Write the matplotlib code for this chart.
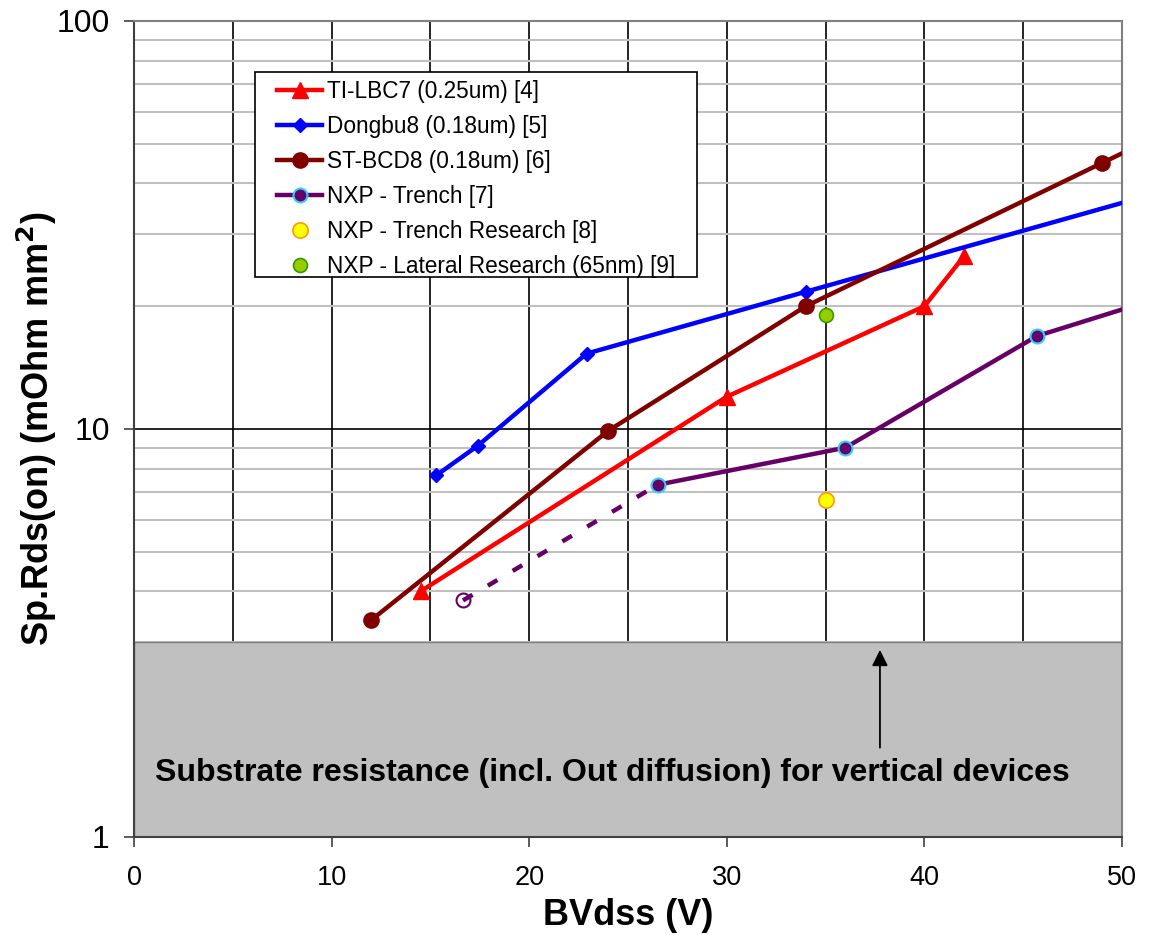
import matplotlib
matplotlib.use("Agg")
import matplotlib.pyplot as plt
from matplotlib.patches import Rectangle
from matplotlib.ticker import FixedLocator, NullFormatter

plt.rcParams['font.family'] = ['Liberation Sans', 'DejaVu Sans']

# ---- data ----
ti_x = [14.5, 30, 40, 42]
ti_y = [4.0, 12.0, 20.0, 26.5]

dongbu_x = [15.3, 17.4, 22.9, 34.0, 60.0]
dongbu_y = [7.7, 9.1, 15.3, 21.7, 49.0]

st_x = [12.0, 24.0, 34.0, 49.0, 60.0]
st_y = [3.4, 9.9, 20.0, 44.9, 81.0]

nxp_x = [26.5, 36.0, 45.7, 60.0]
nxp_y = [7.3, 9.0, 16.9, 27.8]

nxp_dash_x = [16.65, 26.5]
nxp_dash_y = [3.8, 7.3]

tr_res_x = [35.0]
tr_res_y = [6.7]

lat_res_x = [35.0]
lat_res_y = [19.0]

substrate_limit = 3.0
arrow_x = 37.75
arrow_from = 1.63
arrow_to = 2.92

labels = ["TI-LBC7 (0.25um) [4]", "Dongbu8 (0.18um) [5]", "ST-BCD8 (0.18um) [6]",
          "NXP - Trench [7]", "NXP - Trench Research [8]",
          "NXP - Lateral Research (65nm) [9]"]
substrate_text = "Substrate resistance (incl. Out diffusion) for vertical devices"

W, H = 1149, 935
fig = plt.figure(figsize=(W / 100, H / 100), dpi=100)
ax = fig.add_axes([134 / W, 1 - 837 / H, (1122 - 134) / W, (837 - 21) / H])
ax.set_xlim(0, 50)
ax.set_yscale('log')
ax.set_ylim(1, 100)

# grid
ax.set_axisbelow(True)
ax.xaxis.set_major_locator(FixedLocator([0, 10, 20, 30, 40, 50]))
ax.xaxis.set_minor_locator(FixedLocator([5, 15, 25, 35, 45]))
ax.yaxis.set_major_locator(FixedLocator([1, 10, 100]))
ax.yaxis.set_minor_locator(FixedLocator([2, 3, 4, 5, 6, 7, 8, 9, 20, 30, 40, 50, 60, 70, 80, 90]))
ax.yaxis.set_minor_formatter(NullFormatter())
ax.set_yticklabels(["1", "10", "100"])
ax.grid(True, axis='x', which='both', color='black', lw=1.2, zorder=0)
ax.grid(True, axis='y', which='major', color='black', lw=1.2, zorder=0)
ax.grid(True, axis='y', which='minor', color='#c0c0c0', lw=1.5, zorder=0)
ax.tick_params(axis='both', which='minor', length=0)
ax.tick_params(axis='both', which='major', length=7.5, width=1.2, direction='out',
               color='#404040')
ax.tick_params(axis='x', pad=13, labelsize=19.5)
ax.tick_params(axis='y', pad=10, labelsize=23)

for s in ['left', 'bottom']:
    ax.spines[s].set_color('#404040')
    ax.spines[s].set_linewidth(1.5)
for s in ['top', 'right']:
    ax.spines[s].set_color('#808080')
    ax.spines[s].set_linewidth(1.5)

# substrate region
ax.add_patch(Rectangle((0, 1), 50, substrate_limit - 1, facecolor='#c0c0c0',
                       edgecolor='#808080', lw=1, zorder=1.5))
ax.text(1.05, 1.435, substrate_text, fontsize=23, fontweight='bold',
        va='center', ha='left', zorder=5)
ax.annotate("", xy=(arrow_x, arrow_to), xytext=(arrow_x, arrow_from),
            arrowprops=dict(arrowstyle='-|>', color='black', lw=1.3,
                            mutation_scale=24), zorder=5)

# series
lw = 3.2
ax.plot(nxp_dash_x, nxp_dash_y, color='#660066', lw=lw, ls=(0, (2.5, 4)), zorder=3)
ax.plot(nxp_dash_x[:1], nxp_dash_y[:1], 'o', mfc='none', mec='#660066', mew=1.5,
        ms=10, zorder=3)
ax.plot(ti_x, ti_y, color='#ff0000', lw=lw, marker='^', ms=11, label=labels[0], zorder=3)
ax.plot(dongbu_x, dongbu_y, color='#0000ff', lw=lw, marker='D', ms=7.5, label=labels[1], zorder=3)
ax.plot(st_x, st_y, color='#800000', lw=lw, marker='o', ms=11, label=labels[2], zorder=3)
ax.plot(nxp_x, nxp_y, color='#660066', lw=lw, marker='o', ms=10, mec='#33ccff',
        mew=1.5, label=labels[3], zorder=3)
ax.plot(tr_res_x, tr_res_y, ls='none', marker='o', ms=11, mfc='#ffff00', mec='#ff9900',
        mew=1.2, label=labels[4], zorder=3)
ax.plot(lat_res_x, lat_res_y, ls='none', marker='o', ms=10, mfc='#99cc00', mec='#339900',
        mew=1.2, label=labels[5], zorder=3)

# legend: frame drawn separately as a patch in figure coordinates
ax.add_patch(Rectangle((255 / W, 1 - 277 / H), (697 - 255) / W, (277 - 72) / H,
                       transform=fig.transFigure, facecolor='white',
                       edgecolor='black', lw=1.2, zorder=5, clip_on=False))
leg = ax.legend(loc='upper left', bbox_to_anchor=(277 / W, 1 - 80 / H),
                bbox_transform=fig.transFigure, fontsize=16.3,
                frameon=False, handlelength=2.0, handletextpad=0.2,
                labelspacing=0.53, borderpad=0, borderaxespad=0)
leg.set_zorder(6)

ax.set_xlabel("BVdss (V)", fontsize=26, fontweight='bold', labelpad=5)
ax.set_ylabel("Sp.Rds(on) (mOhm mm$^\\mathbf{2}$)", fontsize=26, fontweight='bold')
ax.yaxis.set_label_coords(-0.076, 0.5)

fig.savefig("out.png", dpi=100)
